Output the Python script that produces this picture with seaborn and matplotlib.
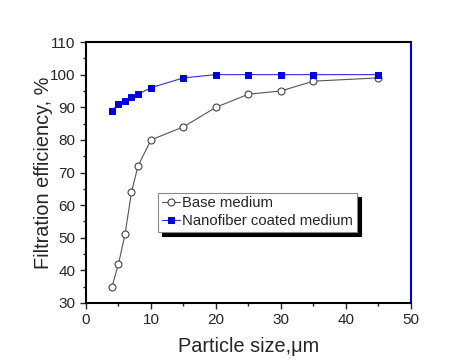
import seaborn as sns
import matplotlib.pyplot as plt
import pandas as pd
from matplotlib.ticker import MultipleLocator

sns.set_theme(style="ticks")
plt.rcParams['font.family'] = ['Liberation Sans', 'DejaVu Sans']

# data
particle_size = [4, 5, 6, 7, 8, 10, 15, 20, 25, 30, 35, 45]
base_medium = [35, 42, 51, 64, 72, 80, 84, 90, 94, 95, 98, 99]
nano_medium = [89, 91, 92, 93, 94, 96, 99, 100, 100, 100, 100, 100]

df = pd.DataFrame({"size": particle_size, "base": base_medium, "nano": nano_medium})

fig = plt.figure(figsize=(4.77, 3.63), dpi=100)
ax = fig.add_axes([86/477, 1 - 303/363, 325/477, 261/363])

sns.lineplot(data=df, x="size", y="base", ax=ax, color="#555555", lw=0.8,
             marker="o", markersize=5, markerfacecolor="white",
             markeredgecolor="#444444", markeredgewidth=0.8, label="Base medium")
sns.lineplot(data=df, x="size", y="nano", ax=ax, color="#3030d0", lw=0.8,
             marker="s", markersize=5, markerfacecolor="#0000dd",
             markeredgecolor="#0000dd", label="Nanofiber coated medium")

ax.set_xlim(0, 50)
ax.set_ylim(30, 110)
ax.xaxis.set_major_locator(MultipleLocator(10))
ax.yaxis.set_major_locator(MultipleLocator(10))
ax.xaxis.set_minor_locator(MultipleLocator(5))
ax.yaxis.set_minor_locator(MultipleLocator(5))
ax.tick_params(which="both", direction="out", top=False, right=False, labelsize=11, width=1)
ax.tick_params(which="major", length=4)
ax.tick_params(which="minor", length=2.5)

for s in ["left", "bottom", "top"]:
    ax.spines[s].set_color("black")
    ax.spines[s].set_linewidth(1.5)
ax.spines["right"].set_color("#0000dd")
ax.spines["right"].set_linewidth(1.5)

ax.set_xlabel("Particle size,\u03bcm", fontsize=14.3, labelpad=7)
ax.set_ylabel("Filtration efficiency, %", fontsize=14.3, labelpad=-2)

leg = ax.legend(loc="upper left", bbox_to_anchor=(0.222, 0.423), frameon=True,
                fancybox=False, shadow={"color": "black", "alpha": 1, "ox": 3, "oy": -3},
                fontsize=10.7, handlelength=1.2, handletextpad=0.15,
                borderpad=0.25, labelspacing=0.25, borderaxespad=0)
leg.get_frame().set_edgecolor("#888888")
leg.get_frame().set_linewidth(0.8)

fig.savefig("out.png", dpi=100)
